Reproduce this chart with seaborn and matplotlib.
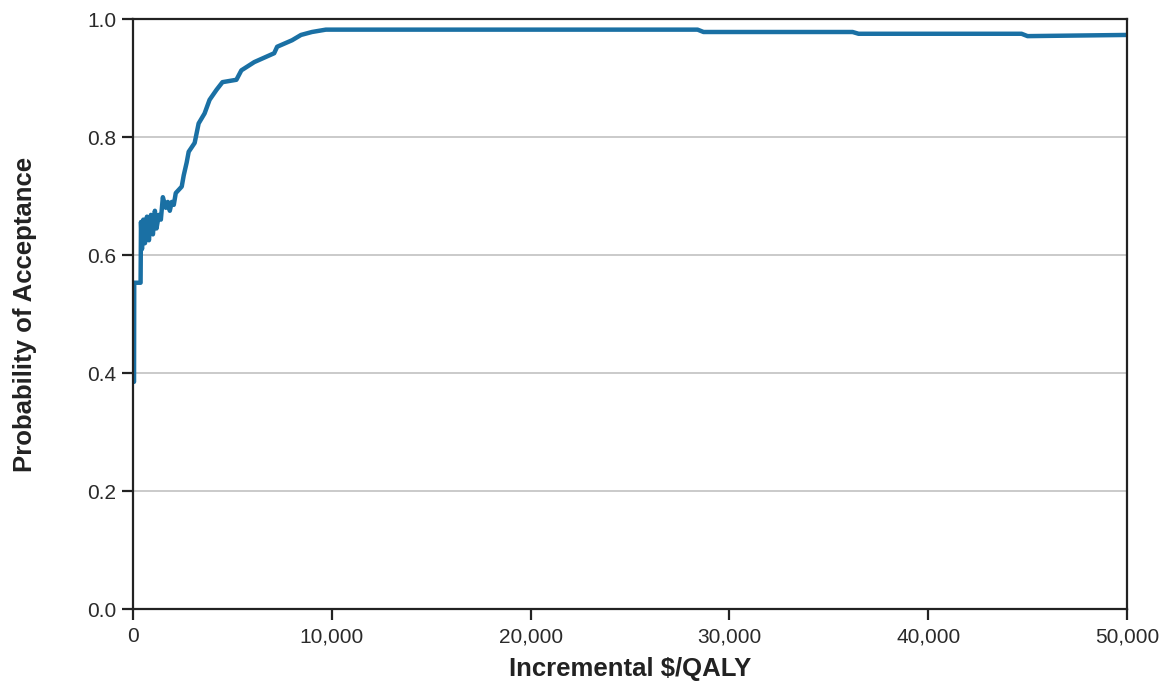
import matplotlib
matplotlib.use("Agg")
import matplotlib.pyplot as plt
import matplotlib.ticker as mticker
import seaborn as sns
import pandas as pd

# Cost-effectiveness acceptability curve
wtp = [50, 60, 380, 400, 450, 520, 600, 700, 800, 900, 1000, 1100, 1180, 1300,
       1400, 1500, 1650, 1750, 1850, 1950, 2050, 2150, 2450, 2550, 2700, 2800,
       3100, 3300, 3600, 3850, 4200, 4500, 5200, 5450, 6100, 6700, 7100, 7250,
       8000, 8450, 9000, 9700, 28400, 28700, 36200, 36500, 44700, 45000, 50000]
prob = [0.385, 0.553, 0.553, 0.656, 0.610, 0.660, 0.620, 0.665, 0.625, 0.668,
        0.635, 0.675, 0.645, 0.668, 0.660, 0.698, 0.680, 0.690, 0.675, 0.690,
        0.685, 0.705, 0.716, 0.735, 0.757, 0.775, 0.790, 0.823, 0.840, 0.863,
        0.880, 0.893, 0.897, 0.913, 0.927, 0.936, 0.942, 0.953, 0.964, 0.973,
        0.978, 0.982, 0.982, 0.978, 0.978, 0.975, 0.975, 0.971, 0.973]

df = pd.DataFrame({"wtp": wtp, "prob": prob})

sns.set_theme(style="white")
plt.rcParams["font.family"] = ["Liberation Sans", "DejaVu Sans"]

fig = plt.figure(figsize=(11.69, 6.89), dpi=100)
ax = fig.add_axes([0.1138, 0.1161, 0.964 - 0.1138, 0.9724 - 0.1161])

ax.yaxis.grid(True, color="#c6c6c6", linewidth=1.3)
ax.set_axisbelow(True)

sns.lineplot(data=df, x="wtp", y="prob", ax=ax, estimator=None, sort=False,
             color="#1a70a4", linewidth=3.2)

ax.set_xlim(0, 50000)
ax.set_ylim(0, 1.0)
ax.set_xticks([0, 10000, 20000, 30000, 40000, 50000])
ax.set_yticks([0.0, 0.2, 0.4, 0.6, 0.8, 1.0])
ax.xaxis.set_major_formatter(mticker.FuncFormatter(lambda v, p: f"{int(v):,}"))
ax.yaxis.set_major_formatter(mticker.FormatStrFormatter("%.1f"))

for s in ax.spines.values():
    s.set_color("#222222")
    s.set_linewidth(1.6)

ax.tick_params(axis="both", which="major", direction="out", length=8,
               width=1.6, color="#222222", labelsize=15,
               labelcolor="#2a2a2a", left=True, bottom=True)
ax.tick_params(axis="x", pad=5)
ax.tick_params(axis="y", pad=4)

ax.set_xlabel("Incremental $/QALY", fontsize=18.5, fontweight="bold",
              color="#222222", va="center")
ax.set_ylabel("Probability of Acceptance", fontsize=18.5, fontweight="bold",
              color="#222222", va="center")
ax.xaxis.set_label_coords(0.5, -0.102)
ax.yaxis.set_label_coords(-0.109, 0.5)

fig.savefig("out.png", dpi=100, facecolor="white")
